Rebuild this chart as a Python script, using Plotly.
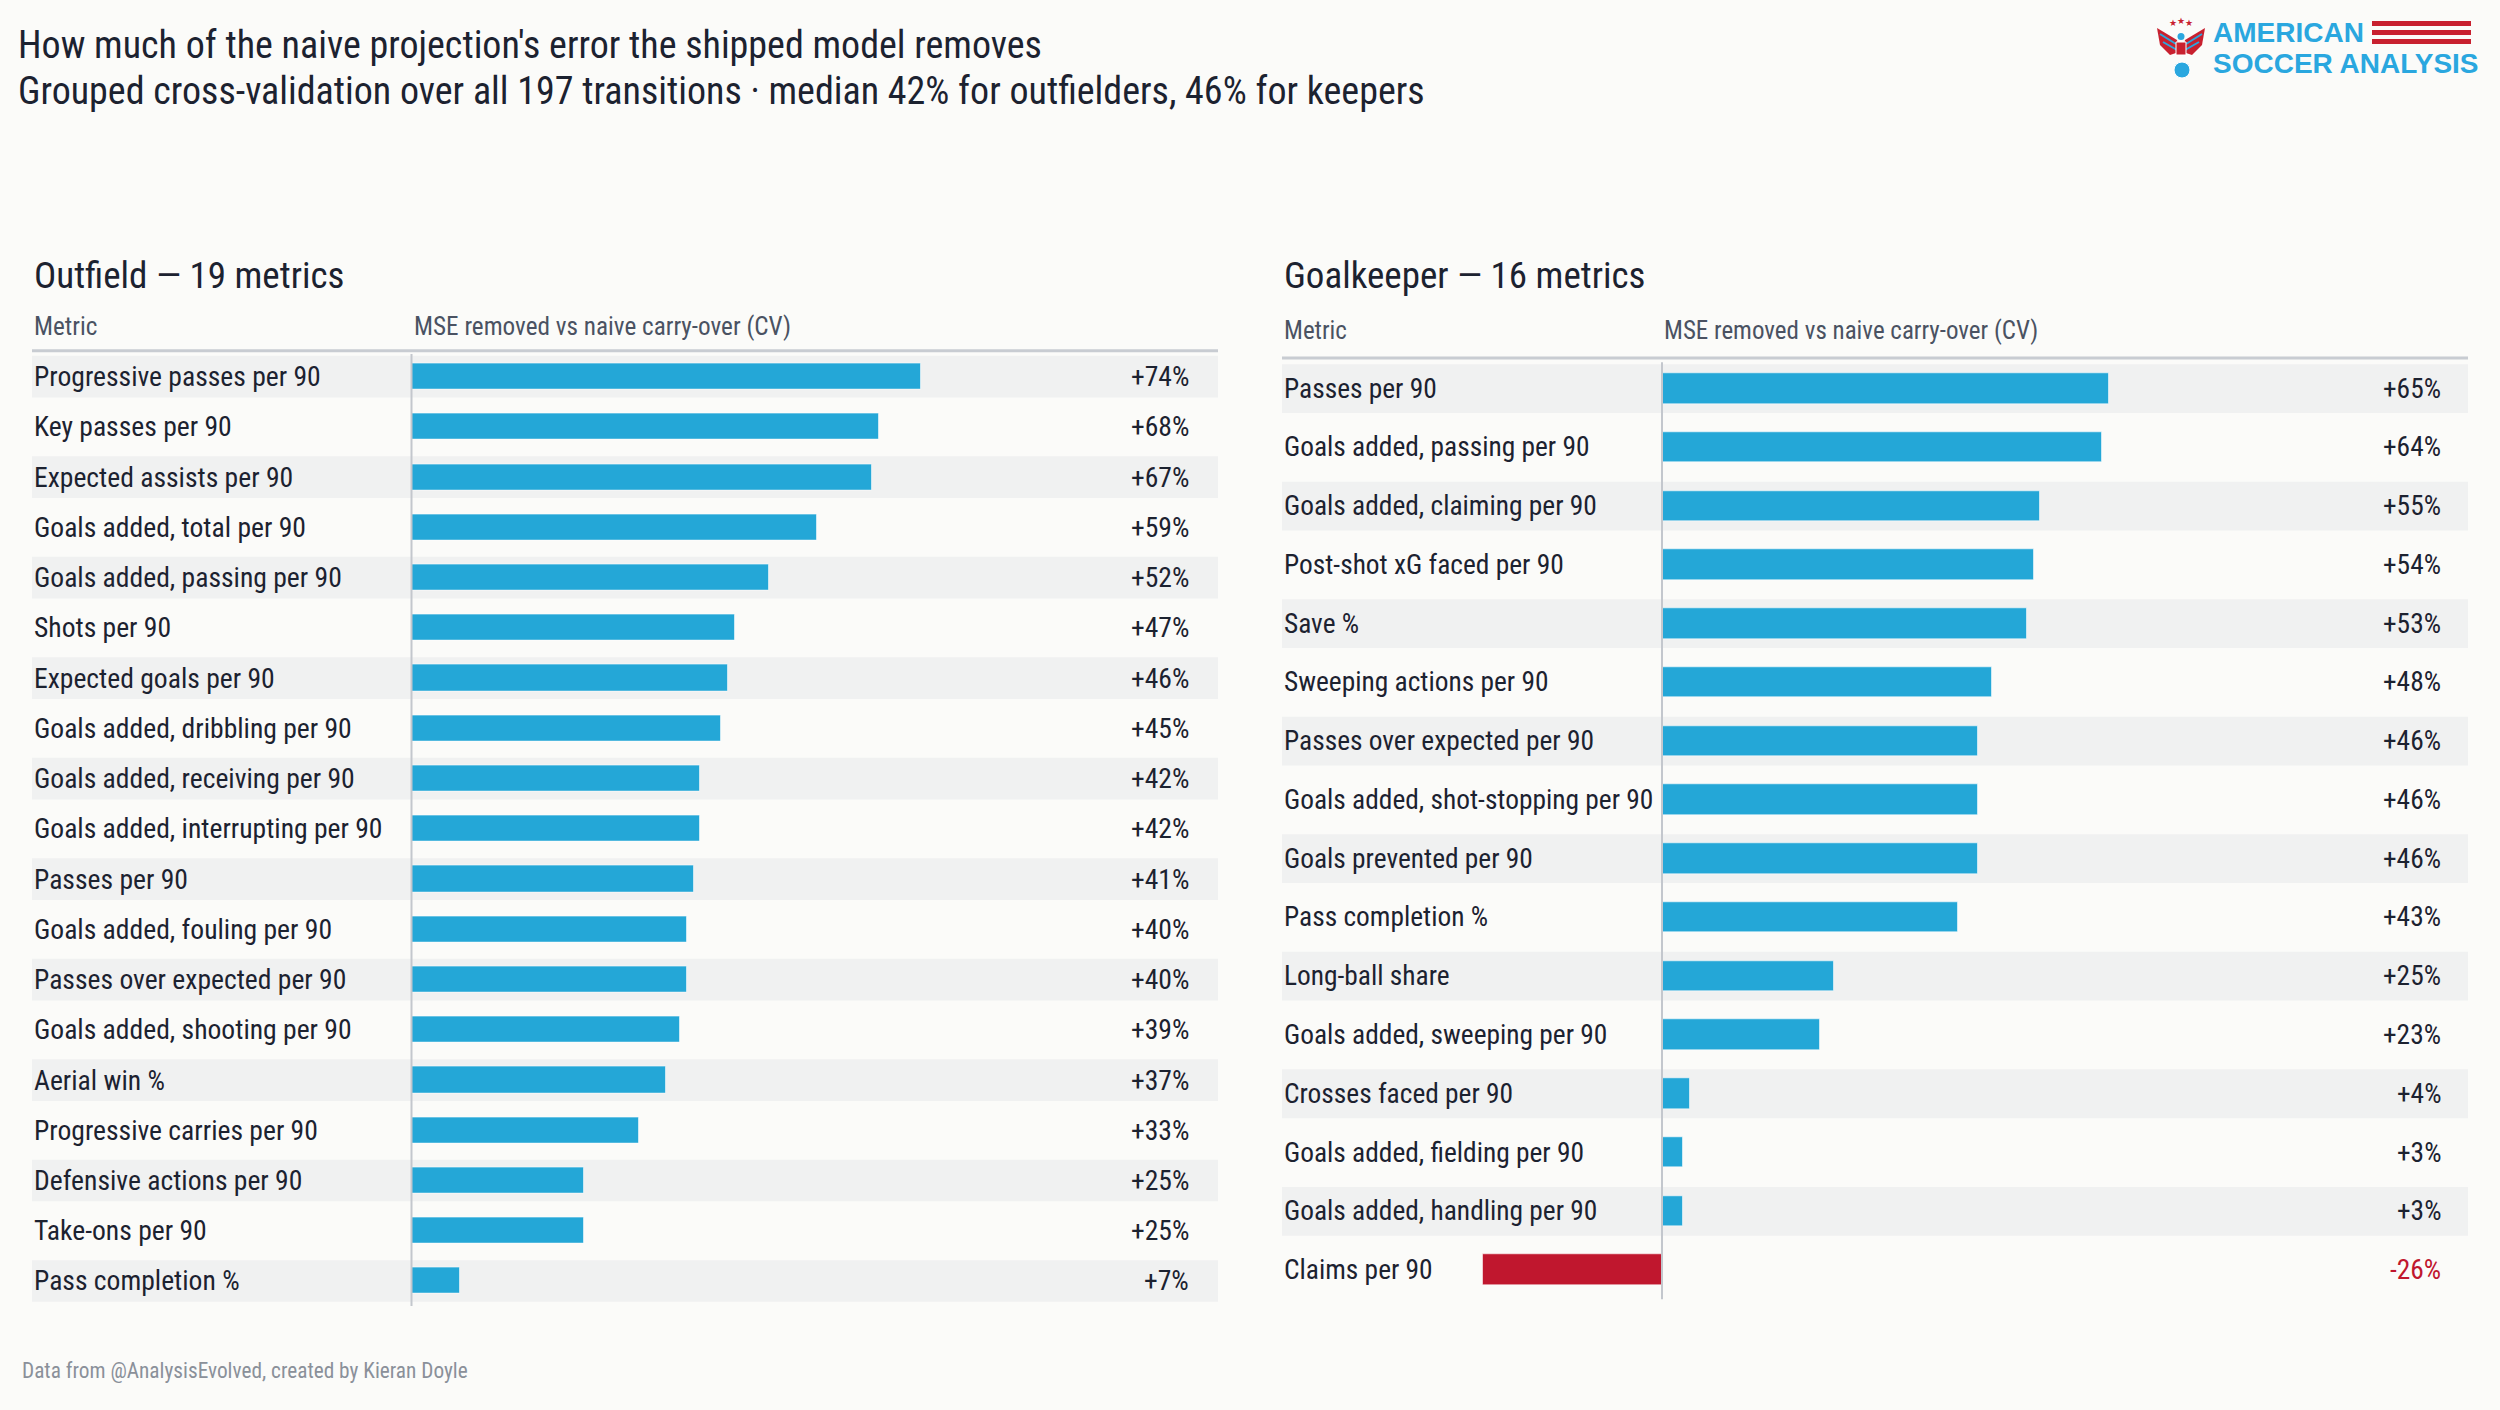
import plotly.graph_objects as go

W, H = 2500, 1410

# ---------------- data ----------------
out_metrics = [
    "Progressive passes per 90", "Key passes per 90", "Expected assists per 90",
    "Goals added, total per 90", "Goals added, passing per 90", "Shots per 90",
    "Expected goals per 90", "Goals added, dribbling per 90", "Goals added, receiving per 90",
    "Goals added, interrupting per 90", "Passes per 90", "Goals added, fouling per 90",
    "Passes over expected per 90", "Goals added, shooting per 90", "Aerial win %",
    "Progressive carries per 90", "Defensive actions per 90", "Take-ons per 90",
    "Pass completion %",
]
out_values = [74, 68, 67, 59, 52, 47, 46, 45, 42, 42, 41, 40, 40, 39, 37, 33, 25, 25, 7]

gk_metrics = [
    "Passes per 90", "Goals added, passing per 90", "Goals added, claiming per 90",
    "Post-shot xG faced per 90", "Save %", "Sweeping actions per 90",
    "Passes over expected per 90", "Goals added, shot-stopping per 90", "Goals prevented per 90",
    "Pass completion %", "Long-ball share", "Goals added, sweeping per 90",
    "Crosses faced per 90", "Goals added, fielding per 90", "Goals added, handling per 90",
    "Claims per 90",
]
gk_values = [65, 64, 55, 54, 53, 48, 46, 46, 46, 43, 25, 23, 4, 3, 3, -26]

title_line1 = "How much of the naive projection's error the shipped model removes"
title_line2 = ("Grouped cross-validation over all 197 transitions \u00b7 median 42% for outfielders, "
               "46% for keepers")
out_title = "Outfield \u2014 19 metrics"
gk_title = "Goalkeeper \u2014 16 metrics"
col_metric = "Metric"
col_value = "MSE removed vs naive carry-over (CV)"
footer = "Data from @AnalysisEvolved, created by Kieran Doyle"

# ---------------- style ----------------
FONT = "Roboto Condensed, DejaVu Sans Condensed, sans-serif"
BG = "#fbfbf9"
BAND = "#f0f1f1"
BLUE = "#24a7d7"
RED = "#c0172e"
TXT = "#1c2230"
SUB = "#4a5262"
GRID = "#c8ccd2"
LOGO_BLUE = "#2aa7df"
LOGO_RED = "#c8202f"


def px(x):
    return x / W


def py(y):
    return 1 - y / H


fig = go.Figure()

panels = [
    dict(metrics=out_metrics, values=out_values, xa="x", ya="y",
         x0=32, x1=1218, zero=411.5, scale=6.88, ytop=351.6, ybot=1306.1,
         line_y=350.7, head_y=327, title_y=275, title=out_title,
         lab_size=27.6, head_size=25.2, val_x=1190.6),
    dict(metrics=gk_metrics, values=gk_values, xa="x2", ya="y2",
         x0=1282, x1=2468, zero=1662, scale=6.88, ytop=359.3, ybot=1299.4,
         line_y=358, head_y=330, title_y=275, title=gk_title,
         lab_size=27.4, head_size=25, val_x=2443),
]

shapes = []
annotations = []

for k, p in enumerate(panels):
    n = len(p["metrics"])
    idx = list(range(n))
    axname = "" if k == 0 else "2"
    xa_key = "xaxis" + axname
    ya_key = "yaxis" + axname
    xref = p["xa"]
    yref = p["ya"]
    colors = [BLUE if v >= 0 else RED for v in p["values"]]
    fig.add_trace(go.Bar(
        x=p["values"], y=idx, orientation="h", width=0.52,
        marker=dict(color=colors, line=dict(color="rgba(255,255,255,0.55)", width=1)),
        xaxis=xref, yaxis=yref, hoverinfo="skip", showlegend=False,
    ))
    fig.update_layout(**{
        xa_key: dict(domain=[px(p["x0"]), px(p["x1"])],
                     range=[(p["x0"] - p["zero"]) / p["scale"], (p["x1"] - p["zero"]) / p["scale"]],
                     visible=False, fixedrange=True,
                     anchor=yref),
        ya_key: dict(domain=[py(p["ybot"]), py(p["ytop"])],
                     range=[n - 0.5, -0.5], visible=False, fixedrange=True,
                     anchor=xref),
    })
    # alternating row bands
    for i in idx:
        if i % 2 == 0:
            shapes.append(dict(type="rect", xref=xref + " domain", x0=0, x1=1,
                               yref=yref, y0=i - 0.415, y1=i + 0.415,
                               fillcolor=BAND, line=dict(width=0), layer="below"))
    # header rule
    shapes.append(dict(type="line", xref=xref + " domain", x0=0, x1=1,
                       yref="paper", y0=py(p["line_y"]), y1=py(p["line_y"]),
                       line=dict(color=GRID, width=3)))
    # zero line
    shapes.append(dict(type="line", xref=xref, x0=0, x1=0, yref=yref,
                       y0=-0.45, y1=n - 0.5, line=dict(color="#c3c7cd", width=2), layer="above"))
    # labels and values
    dom_w = p["x1"] - p["x0"]
    for i, (m, v) in enumerate(zip(p["metrics"], p["values"])):
        annotations.append(dict(text=m, xref=xref + " domain", x=0, xanchor="left",
                                yref=yref, y=i, yanchor="middle", showarrow=False,
                                font=dict(family=FONT, size=p["lab_size"], color=TXT)))
        annotations.append(dict(text=f"{v:+d}%", xref=xref + " domain",
                                x=(p["val_x"] - p["x0"]) / dom_w, xanchor="right",
                                yref=yref, y=i, yanchor="middle", showarrow=False,
                                font=dict(family=FONT, size=p["lab_size"],
                                          color=TXT if v >= 0 else RED)))
    # headers
    annotations.append(dict(text=col_metric, xref="paper", x=px(p["x0"]), xanchor="left",
                            yref="paper", y=py(p["head_y"]), yanchor="middle", showarrow=False,
                            font=dict(family=FONT, size=p["head_size"], color=SUB)))
    annotations.append(dict(text=col_value, xref="paper", x=px(p["zero"]), xanchor="left",
                            yref="paper", y=py(p["head_y"]), yanchor="middle", showarrow=False,
                            font=dict(family=FONT, size=p["head_size"], color=SUB)))
    annotations.append(dict(text=p["title"], xref="paper", x=px(p["x0"]), xanchor="left",
                            yref="paper", y=py(p["title_y"]), yanchor="middle", showarrow=False,
                            font=dict(family=FONT, size=37, color=TXT)))

# main titles
annotations.append(dict(text=title_line1, xref="paper", x=px(16), xanchor="left",
                        yref="paper", y=py(45), yanchor="middle", showarrow=False,
                        font=dict(family=FONT, size=38, color=TXT)))
annotations.append(dict(text=title_line2, xref="paper", x=px(16), xanchor="left",
                        yref="paper", y=py(91), yanchor="middle", showarrow=False,
                        font=dict(family=FONT, size=38, color=TXT)))
# footer
annotations.append(dict(text=footer, xref="paper", x=px(20), xanchor="left",
                        yref="paper", y=py(1370), yanchor="middle", showarrow=False,
                        font=dict(family=FONT, size=21.3, color="#8a9099")))

# ---------------- logo ----------------
LOGO_FONT = "Liberation Sans, Arial, sans-serif"
annotations.append(dict(text="<b>AMERICAN</b>", xref="paper", x=px(2211), xanchor="left",
                        yref="paper", y=py(33), yanchor="middle", showarrow=False,
                        font=dict(family=LOGO_FONT, size=28, color=LOGO_BLUE)))
annotations.append(dict(text="<b>SOCCER ANALYSIS</b>", xref="paper", x=px(2211), xanchor="left",
                        yref="paper", y=py(63), yanchor="middle", showarrow=False,
                        font=dict(family=LOGO_FONT, size=28, color=LOGO_BLUE)))
for yy in (23.5, 32.5, 41.5):
    shapes.append(dict(type="rect", xref="paper", yref="paper",
                       x0=px(2372), x1=px(2471), y0=py(yy - 2.5), y1=py(yy + 2.5),
                       fillcolor=LOGO_RED, line=dict(width=0)))


def path(points):
    return "M " + " L ".join(f"{px(x):.5f},{py(y):.5f}" for x, y in points) + " Z"


left_wing = [(2157, 28), (2177, 40), (2179, 52), (2170, 55), (2160, 45)]
right_wing = [(4362 - x, y) for x, y in left_wing]
for wing in (left_wing, right_wing):
    shapes.append(dict(type="path", xref="paper", yref="paper", path=path(wing),
                       fillcolor=LOGO_RED, line=dict(width=0)))
for (xa_, ya_, xb_, yb_) in [(2160, 34, 2176, 44), (2163, 42, 2177, 50)]:
    for (a, b) in [((xa_, ya_), (xb_, yb_)), ((4362 - xa_, ya_), (4362 - xb_, yb_))]:
        shapes.append(dict(type="line", xref="paper", yref="paper",
                           x0=px(a[0]), y0=py(a[1]), x1=px(b[0]), y1=py(b[1]),
                           line=dict(color=LOGO_BLUE, width=2)))
shapes.append(dict(type="circle", xref="paper", yref="paper",
                   x0=px(2177.5), x1=px(2184.5), y0=py(33), y1=py(40),
                   fillcolor=LOGO_BLUE, line=dict(width=0)))
shapes.append(dict(type="rect", xref="paper", yref="paper",
                   x0=px(2176), x1=px(2186), y0=py(42), y1=py(55),
                   fillcolor=LOGO_RED, line=dict(color="white", width=1)))
shapes.append(dict(type="circle", xref="paper", yref="paper",
                   x0=px(2174), x1=px(2190), y0=py(62), y1=py(78),
                   fillcolor=LOGO_BLUE, line=dict(color="white", width=1)))
for sx, sy in [(2173, 23), (2181, 21), (2189, 23)]:
    annotations.append(dict(text="\u2605", xref="paper", x=px(sx), xanchor="center",
                            yref="paper", y=py(sy), yanchor="middle", showarrow=False,
                            font=dict(family="DejaVu Sans", size=9, color=LOGO_RED)))

fig.update_layout(
    width=W, height=H,
    margin=dict(l=0, r=0, t=0, b=0),
    paper_bgcolor=BG, plot_bgcolor="rgba(0,0,0,0)",
    shapes=shapes, annotations=annotations,
    bargap=0, showlegend=False,
    font=dict(family=FONT, color=TXT),
)

fig.write_html("out.html", config={"displayModeBar": False},
               post_script="document.body.style.margin='0';document.body.style.background='#fbfbf9';")
